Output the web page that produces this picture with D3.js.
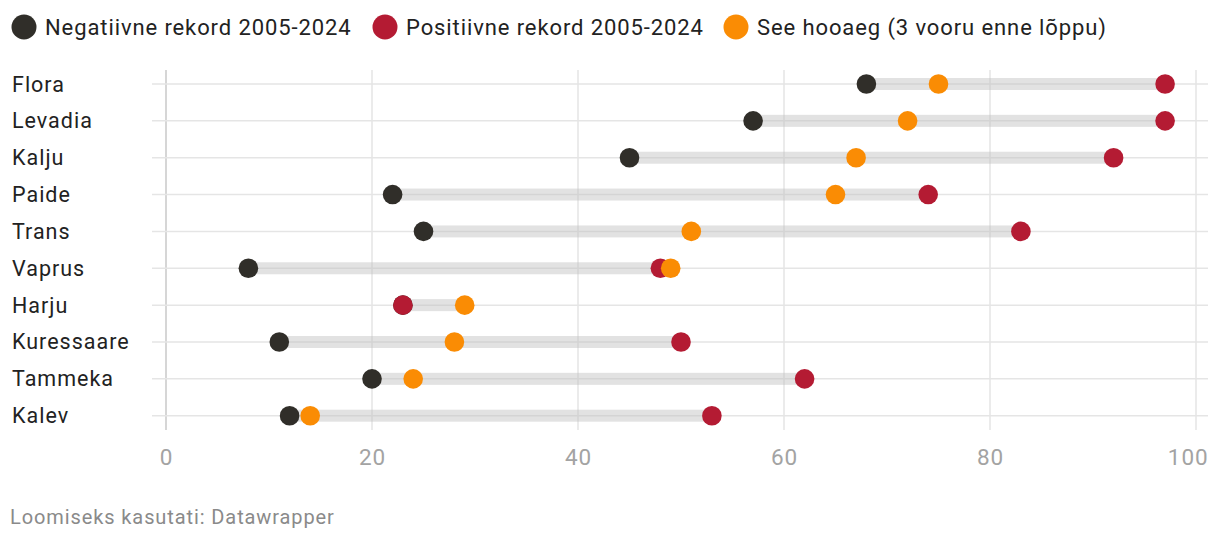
<!DOCTYPE html>
<html>
<head>
<meta charset="utf-8">
<script src="https://cdn.jsdelivr.net/npm/d3@7"></script>
<style>
  body { margin: 0; background: #fff; font-family: Roboto, "Noto Sans", sans-serif; }
  svg text { letter-spacing: 0.9px; }
  .tick line { display: none; }
  .domain { display: none; }
</style>
</head>
<body>
<script>
const width = 1220;
const height = 542;

const teams = ["Flora", "Levadia", "Kalju", "Paide", "Trans", "Vaprus", "Harju", "Kuressaare", "Tammeka", "Kalev"];
const negativeRecord = [68, 57, 45, 22, 25, 8, 23, 11, 20, 12];
const positiveRecord = [97, 97, 92, 74, 83, 48, 23, 50, 62, 53];
const thisSeason = [75, 72, 67, 65, 51, 49, 29, 28, 24, 14];
const xTicks = [0, 20, 40, 60, 80, 100];

const seriesNames = ["Negatiivne rekord 2005-2024", "Positiivne rekord 2005-2024", "See hooaeg (3 vooru enne lõppu)"];
const seriesColors = ["#302e29", "#b41b33", "#fa8c04"];

const x = d3.scaleLinear([0, 100], [166, 1196]);
const y = d3.scalePoint(teams, [84, 415.7]);

const svg = d3.select("body")
  .append("svg")
  .attr("width", width)
  .attr("height", height);

// Legend
const legendX = [24, 385, 736];
const legend = svg.append("g");
seriesNames.forEach((name, i) => {
  legend.append("circle")
    .attr("cx", legendX[i])
    .attr("cy", 27)
    .attr("r", 12.5)
    .attr("fill", seriesColors[i]);
  legend.append("text")
    .attr("x", legendX[i] + 21)
    .attr("y", 35)
    .attr("font-size", 22)
    .attr("fill", "#222")
    .text(name);
});

// vertical grid
svg.append("g")
  .selectAll("line")
  .data(xTicks)
  .join("line")
  .attr("x1", d => x(d))
  .attr("x2", d => x(d))
  .attr("y1", 70)
  .attr("y2", 430)
  .attr("stroke", d => d === 0 ? "#c8c8c8" : "#e5e5e5")
  .attr("stroke-width", 1.5);

// row lines
svg.append("g")
  .selectAll("line")
  .data(teams)
  .join("line")
  .attr("x1", 152)
  .attr("x2", 1208)
  .attr("y1", d => y(d))
  .attr("y2", d => y(d))
  .attr("stroke", "#e5e5e5")
  .attr("stroke-width", 1.5);

// range bars
svg.append("g")
  .selectAll("rect")
  .data(teams)
  .join("rect")
  .attr("x", (d, i) => x(Math.min(negativeRecord[i], positiveRecord[i], thisSeason[i])))
  .attr("width", (d, i) => x(Math.max(negativeRecord[i], positiveRecord[i], thisSeason[i])) - x(Math.min(negativeRecord[i], positiveRecord[i], thisSeason[i])))
  .attr("y", d => y(d) - 6)
  .attr("height", 12)
  .attr("fill", "#bfbfbf")
  .attr("fill-opacity", 0.45);

// dots
const dotSeries = [negativeRecord, positiveRecord, thisSeason];
dotSeries.forEach((values, s) => {
  svg.append("g")
    .selectAll("circle")
    .data(teams)
    .join("circle")
    .attr("cx", (d, i) => x(values[i]))
    .attr("cy", d => y(d))
    .attr("r", 9.8)
    .attr("fill", seriesColors[s]);
});

// team labels
svg.append("g")
  .selectAll("text")
  .data(teams)
  .join("text")
  .attr("x", 12)
  .attr("y", d => y(d) + 7.5)
  .attr("font-size", 21.5)
  .attr("fill", "#222")
  .style("letter-spacing", "1px")
  .text(d => d);

// x axis
const xAxis = svg.append("g")
  .attr("transform", "translate(0,440)")
  .call(d3.axisBottom(x).tickValues(xTicks).tickSize(0).tickPadding(0));
xAxis.selectAll("text")
  .attr("dy", "0.72em")
  .attr("y", 9)
  .attr("font-size", 22.5)
  .attr("font-family", "Roboto, sans-serif")
  .attr("fill", "#a3a3a3");
xAxis.selectAll("text").filter(d => d === 100).attr("text-anchor", "end").attr("x", 12);

// footer
svg.append("text")
  .attr("x", 10)
  .attr("y", 524)
  .attr("font-size", 20)
  .attr("fill", "#8a8a8a")
  .text("Loomiseks kasutati: Datawrapper");
</script>
</body>
</html>
